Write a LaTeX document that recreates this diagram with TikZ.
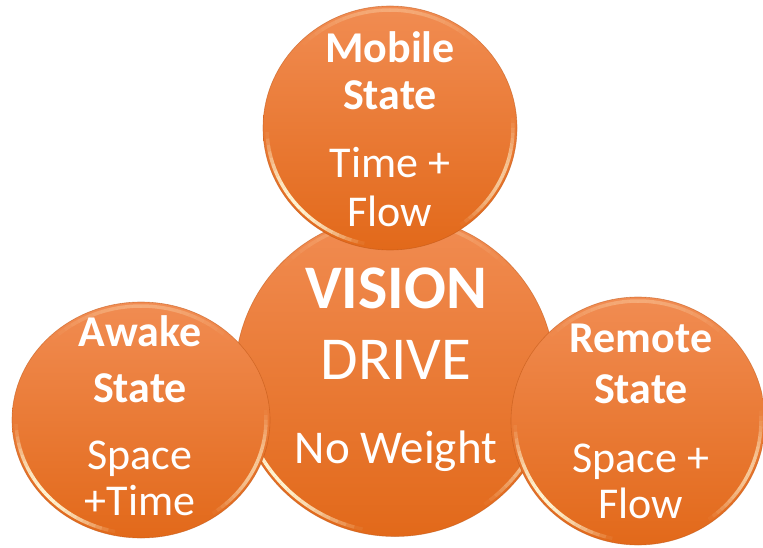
\documentclass[tikz,border=0pt]{standalone}
\usepackage{fontspec}
\setmainfont{Carlito}
\usetikzlibrary{shapes.geometric}
\definecolor{otop}{RGB}{241,140,82}
\definecolor{omid}{RGB}{242,125,42}
\definecolor{obot}{RGB}{226,105,26}
\definecolor{orim}{RGB}{190,85,20}
\definecolor{shine}{RGB}{255,244,210}
\tikzset{
  bubble/.style={ellipse, inner sep=0pt, top color=otop, middle color=omid, bottom color=obot, draw=orim, draw opacity=0.55, line width=0.6pt},
  lbl/.style={anchor=base, inner sep=0pt, text=white},
  head/.style={lbl, font=\fontsize{44}{44}\selectfont\bfseries},
  body/.style={lbl, font=\fontsize{44}{44}\selectfont},
  rimline/.style={draw=shine, line width=3.5pt}
}
% #1 cx, #2 cy, #3 rx, #4 ry, #5 start, #6 end, #7 max opacity
\newcommand{\rimarc}[7]{%
  \foreach \k in {0,...,23}{%
    \pgfmathsetmacro{\aa}{#5+(#6-#5)*\k/24}%
    \pgfmathsetmacro{\ab}{#5+(#6-#5)*(\k+1)/24}%
    \pgfmathsetmacro{\oo}{#7*sin(180*(\k+0.5)/24)}%
    \draw[rimline, draw opacity=\oo] ({#1+(#3-4)*cos(\aa)},{#2+(#4-4)*sin(\aa)}) arc[start angle=\aa, end angle=\ab, x radius=#3-4, y radius=#4-4];
  }%
}
\newcommand{\bubblerims}[4]{%
  \rimarc{#1}{#2}{#3}{#4}{182}{258}{1}%
  \rimarc{#1}{#2}{#3}{#4}{-55}{5}{0.65}%
  \rimarc{#1}{#2}{#3}{#4}{45}{135}{0.3}%
}
\begin{document}
\begin{tikzpicture}[x=1pt,y=1pt]
\useasboundingbox (0,0) rectangle (763,547);
% centre circle
\node[bubble, minimum width=320pt, minimum height=321pt] (vision) at (395,171) {};
\bubblerims{395}{171}{160}{160.5}
% top circle
\node[bubble, minimum width=254pt, minimum height=244pt] (mobile) at (390,419) {};
\bubblerims{390}{419}{127}{122}
% left circle
\node[bubble, minimum width=258pt, minimum height=236pt] (awake) at (141,127) {};
\bubblerims{141}{127}{129}{118}
% right circle
\node[bubble, minimum width=254pt, minimum height=248pt] (remote) at (638,126) {};
\bubblerims{638}{126}{127}{124}
% texts
\node[lbl, font=\fontsize{62}{62}\selectfont\bfseries] (v1) at (396,239) {VISION};
\node[lbl, font=\fontsize{61}{61}\selectfont] (v2) at (396,168) {DRIVE};
\node[lbl, font=\fontsize{47}{47}\selectfont] (v3) at (396,84) {No Weight};
\node[head] (m1) at (390,484) {Mobile};
\node[head] (m2) at (390,437) {State};
\node[body] (m3) at (390,369) {Time +};
\node[body] (m4) at (390,320) {Flow};
\node[head] (a1) at (140,201) {Awake};
\node[head] (a2) at (140,145) {State};
\node[body] (a3) at (140,78) {Space};
\node[body] (a4) at (140,32) {+Time};
\node[head] (r1) at (641,195) {Remote};
\node[head] (r2) at (641,144) {State};
\node[body] (r3) at (641,75) {Space +};
\node[body] (r4) at (641,29) {Flow};
\end{tikzpicture}
\end{document}
